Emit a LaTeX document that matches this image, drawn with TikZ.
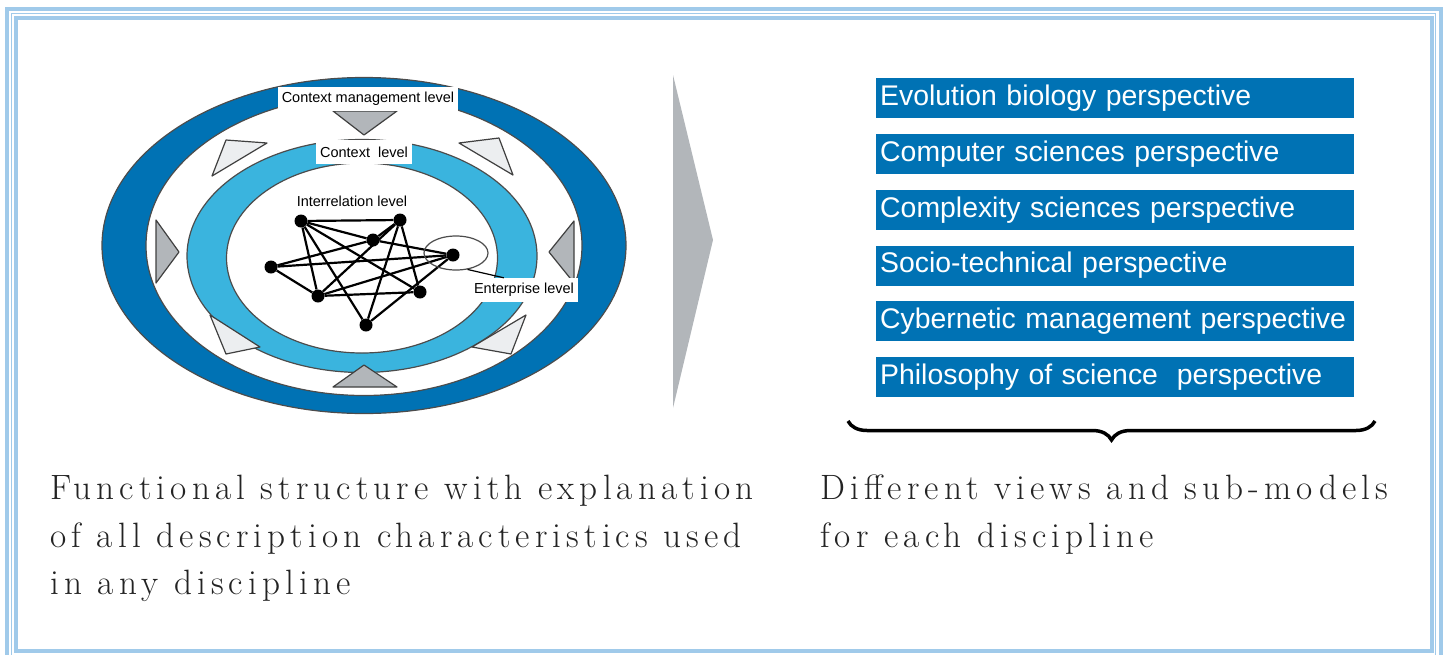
\documentclass[tikz,border=0pt]{standalone}
\usepackage{fontspec}
\setsansfont{Liberation Sans}
\newfontfamily\capfont[LetterSpace=14.5]{Latin Modern Roman}
\usetikzlibrary{positioning,shapes.geometric,decorations.pathreplacing}

\definecolor{ringdark}{RGB}{0,114,180}
\definecolor{ringlight}{RGB}{58,180,222}
\definecolor{frameblue}{RGB}{160,202,234}
\definecolor{wedgegray}{RGB}{178,182,186}
\definecolor{wedgelight}{RGB}{236,238,240}
\definecolor{captext}{RGB}{35,35,35}

\begin{document}
\begin{tikzpicture}[
        x=1pt, y=-1pt,
        node distance=15.4pt,
        lvllabel/.style={fill=white, inner sep=0pt, inner xsep=4pt, minimum height=24pt, font=\sffamily\fontsize{14.5}{16}\selectfont},
        netnode/.style={circle, fill=black, inner sep=0pt, minimum size=13pt},
        link/.style={line width=2.2pt},
        ringline/.style={draw=black!70, line width=1.2pt},
        wedge/.style={fill=wedgegray, draw=black!75, line width=1.2pt, line join=round},
        wedgeout/.style={wedge, fill=wedgelight},
        framebar/.style={draw=frameblue, line width=4pt},
        perspective/.style={fill=ringdark, text=white, text width=470pt, align=left, inner sep=4pt, minimum height=40pt, font=\sffamily\fontsize{28.4}{30}\selectfont},
        caption/.style={anchor=north west, align=left, text=captext, inner sep=0pt, font=\capfont\fontsize{35.2}{47.5}\selectfont},
    ]
    \useasboundingbox (0,0) rectangle (1448,654);
    \clip (0,0) rectangle (1448,654);

    % Frame
    \draw[framebar] (7,9) rectangle (1440.5,662);
    \draw[framebar, line width=1.5pt] (11.5,13.5) rectangle (1435.5,658);
    \draw[framebar] (16,17.5) rectangle (1431.5,651);

    % Rings
    \fill[ringdark, even odd rule] (364,245.5) ellipse [x radius=262, y radius=168]
        (364,245.5) ellipse [x radius=218, y radius=150];
    \draw[ringline] (364,245.5) ellipse [x radius=262, y radius=168];
    \draw[ringline] (364,245.5) ellipse [x radius=218, y radius=150];
    \fill[ringlight, even odd rule] (362,256) ellipse [x radius=175, y radius=116.5]
        (362,258) ellipse [x radius=135.5, y radius=95];
    \draw[ringline] (362,256) ellipse [x radius=175, y radius=116.5];
    \draw[ringline] (362,258) ellipse [x radius=135.5, y radius=95];

    % Wedges between the rings
    \draw[wedge] (333,111) -- (397,111) -- (364,135) -- cycle;
    \draw[wedge] (333,387) -- (397,387) -- (364,365) -- cycle;
    \draw[wedge] (156,220) -- (179,252) -- (156,283) -- cycle;
    \draw[wedge] (574,221) -- (549,252) -- (574,283) -- cycle;
    \draw[wedgeout] (226,140) -- (267,143) -- (212,176) -- cycle;
    \draw[wedgeout] (459,143) -- (499,138) -- (513,175) -- cycle;
    \draw[wedgeout] (210,315) -- (260,347) -- (226,354) -- cycle;
    \draw[wedgeout] (526,315) -- (472,347) -- (511,354) -- cycle;

    % Network
    \node[netnode] (n1) at (301,221) {};
    \node[netnode] (n2) at (400,220) {};
    \node[netnode] (n3) at (373,240) {};
    \node[netnode] (n4) at (453,255) {};
    \node[netnode] (n5) at (271,267) {};
    \node[netnode] (n6) at (318,296) {};
    \node[netnode] (n7) at (420,292) {};
    \node[netnode] (n8) at (366,325) {};
    \foreach \a/\b in {n1/n2, n1/n3, n1/n6, n1/n7, n1/n8, n2/n3, n2/n6, n2/n7, n2/n8,
                       n3/n5, n3/n4, n5/n6, n5/n4, n6/n7, n6/n4, n8/n4}
        \draw[link] (\a) -- (\b);
    \node[ellipse, ringline, minimum width=64pt, minimum height=34pt] (ent) at (456,253) {};

    % Level labels
    \node[lvllabel] (ctxmgmt) at (368,98.5) {Context management level};
    \node[lvllabel] (ctx) at (364,152) {Context\ \ level};
    \node[lvllabel, fill=none] (inter) at (352,201) {Interrelation level};
    \node[lvllabel] (entlbl) at (524,290) {Enterprise level};
    \draw[line width=1.2pt] (ent.-55) -- ([xshift=34pt]entlbl.north west);

    % Arrow
    \fill[wedgegray] (673,75) -- (713,240) -- (673,408) -- cycle;

    % Perspectives
    \node[perspective, anchor=north west] (p1) at (876,78) {Evolution biology perspective};
    \node[perspective, below=of p1] (p2) {Computer sciences perspective};
    \node[perspective, below=of p2] (p3) {Complexity sciences perspective};
    \node[perspective, below=of p3] (p4) {Socio-technical perspective};
    \node[perspective, below=of p4] (p5) {Cybernetic management perspective};
    \node[perspective, below=of p5] (p6) {Philosophy of science\ \ perspective};

    \coordinate (bl) at (848,421);
    \coordinate (br) at (1375,421);
    \draw[line width=3.5pt, decorate, decoration={brace, mirror, amplitude=19pt}] (bl) -- (br);

    % Captions
    \node[caption] (capl) at (50,475) {Functional structure with explanation\\of all description characteristics used\\in any discipline};
    \node[caption] (capr) at (820,475) {Different views and sub-models\\for each discipline};

\end{tikzpicture}
\end{document}
